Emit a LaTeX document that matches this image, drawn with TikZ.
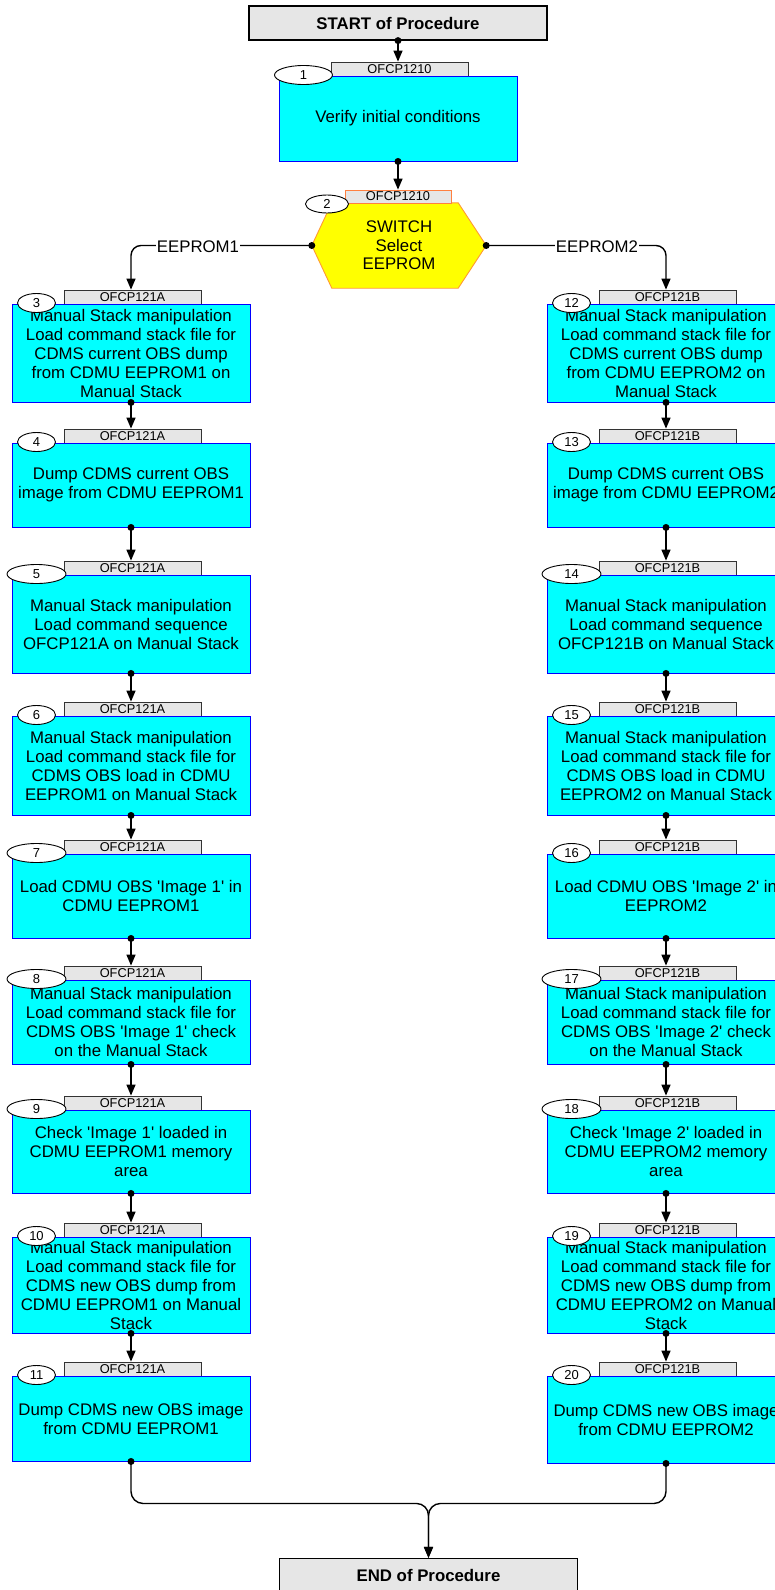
\documentclass[tikz,border=0pt]{standalone}
\usepackage{fontspec}
\setmainfont{Liberation Sans}
\usetikzlibrary{arrows.meta,backgrounds,calc,shapes.geometric}
\definecolor{cyanbox}{HTML}{00FFFF}
\definecolor{bluebd}{HTML}{0000FF}
\definecolor{taggray}{HTML}{E6E6E6}
\definecolor{hexyellow}{HTML}{FFFF00}
\definecolor{hexorange}{HTML}{FF9933}
\definecolor{tagorange}{HTML}{FF8040}
\newcommand{\myq}{\textquotesingle}
\tikzset{
 stepbox/.style={draw=bluebd, fill=cyanbox, line width=0.9pt, minimum width=238pt, align=center, inner sep=0pt, font=\fontsize{16.8}{19}\selectfont},
 tagbox/.style={draw=black!80, fill=taggray, line width=0.8pt, minimum width=137pt, minimum height=14pt, inner sep=0pt, font=\fontsize{12.8}{13}\selectfont},
 numell/.style={ellipse, draw=black, fill=white, line width=0.9pt, minimum height=19pt, inner sep=0pt, font=\fontsize{13}{13}\selectfont},
 endbox/.style={draw=black, fill=taggray, line width=1.2pt, minimum width=298pt, minimum height=34pt, inner sep=0pt, font=\bfseries\fontsize{16.8}{19}\selectfont},
 conn/.style={line width=1.4pt, -{Triangle[length=11pt,width=9pt]}},
 branchlabel/.style={fill=white, inner sep=1pt, font=\fontsize{16.8}{19}\selectfont},
}
% id, cx, top, bottom, tag, number, ellipse width, text
\newcommand{\pstep}[8]{%
 \node[tagbox] (t#1) at ({#2+1.5},{#3-7}) {#5};
 \node[stepbox, minimum height=#4-#3] (b#1) at (#2,{(#3+#4)/2}) {#8};
 \node[numell, minimum width=#7] (n#1) at ({#2-94.5},{#3-1}) {#6};
}
\newcommand{\link}[2]{%
 \draw[conn] (#1.south) -- (#1.south |- #2.north);
 \fill (#1.south) circle (3.5pt);
}
\begin{document}
\begin{tikzpicture}[x=1pt,y=-1pt]
\useasboundingbox (0,0) rectangle (775,1590);
\clip (0,0) rectangle (775,1590);

\node[endbox] (start) at (398,23) {START of Procedure};

\pstep{1}{398}{76}{161}{OFCP1210}{1}{58pt}{Verify initial conditions}

% switch
\node[tagbox, draw=tagorange, minimum width=106pt, minimum height=13pt] (t2) at (398,196.5) {OFCP1210};
\node[minimum width=174pt, minimum height=85pt, inner sep=0pt, align=center, font=\fontsize{16.8}{18.5}\selectfont] (b2) at (399,245.5) {SWITCH\\Select\\EEPROM};
\begin{scope}[on background layer]
\filldraw[fill=hexyellow, draw=hexorange, line width=0.9pt]
 (b2.west) -- ([xshift=20pt]b2.north west) -- ([xshift=-28pt]b2.north east) -- (b2.east)
 -- ([xshift=-28pt]b2.south east) -- ([xshift=20pt]b2.south west) -- cycle;
\end{scope}
\node[numell, minimum width=43pt, minimum height=18pt] (n2) at (327,204) {2};

% left column
\pstep{3}{131}{304}{402}{OFCP121A}{3}{38pt}{Manual Stack manipulation\\Load command stack file for\\CDMS current OBS dump\\from CDMU EEPROM1 on\\Manual Stack}
\pstep{4}{131}{443}{527}{OFCP121A}{4}{38pt}{Dump CDMS current OBS\\image from CDMU EEPROM1}
\pstep{5}{131}{575}{673}{OFCP121A}{5}{59pt}{Manual Stack manipulation\\Load command sequence\\OFCP121A on Manual Stack}
\pstep{6}{131}{716}{815}{OFCP121A}{6}{38pt}{Manual Stack manipulation\\Load command stack file for\\CDMS OBS load in CDMU\\EEPROM1 on Manual Stack}
\pstep{7}{131}{854}{938}{OFCP121A}{7}{59pt}{Load CDMU OBS \myq Image 1\myq{} in\\CDMU EEPROM1}
\pstep{8}{131}{980}{1064}{OFCP121A}{8}{59pt}{Manual Stack manipulation\\Load command stack file for\\CDMS OBS \myq Image 1\myq{} check\\on the Manual Stack}
\pstep{9}{131}{1110}{1193}{OFCP121A}{9}{59pt}{Check \myq Image 1\myq{} loaded in\\CDMU EEPROM1 memory\\area}
\pstep{10}{131}{1237}{1333}{OFCP121A}{10}{38pt}{Manual Stack manipulation\\Load command stack file for\\CDMS new OBS dump from\\CDMU EEPROM1 on Manual\\Stack}
\pstep{11}{131}{1376}{1461}{OFCP121A}{11}{38pt}{Dump CDMS new OBS image\\from CDMU EEPROM1}

% right column
\pstep{12}{666}{304}{402}{OFCP121B}{12}{38pt}{Manual Stack manipulation\\Load command stack file for\\CDMS current OBS dump\\from CDMU EEPROM2 on\\Manual Stack}
\pstep{13}{666}{443}{527}{OFCP121B}{13}{38pt}{Dump CDMS current OBS\\image from CDMU EEPROM2}
\pstep{14}{666}{575}{673}{OFCP121B}{14}{59pt}{Manual Stack manipulation\\Load command sequence\\OFCP121B on Manual Stack}
\pstep{15}{666}{716}{815}{OFCP121B}{15}{38pt}{Manual Stack manipulation\\Load command stack file for\\CDMS OBS load in CDMU\\EEPROM2 on Manual Stack}
\pstep{16}{666}{854}{938}{OFCP121B}{16}{38pt}{Load CDMU OBS \myq Image 2\myq{} in\\EEPROM2}
\pstep{17}{666}{980}{1064}{OFCP121B}{17}{59pt}{Manual Stack manipulation\\Load command stack file for\\CDMS OBS \myq Image 2\myq{} check\\on the Manual Stack}
\pstep{18}{666}{1110}{1193}{OFCP121B}{18}{59pt}{Check \myq Image 2\myq{} loaded in\\CDMU EEPROM2 memory\\area}
\pstep{19}{666}{1237}{1333}{OFCP121B}{19}{38pt}{Manual Stack manipulation\\Load command stack file for\\CDMS new OBS dump from\\CDMU EEPROM2 on Manual\\Stack}
\pstep{20}{666}{1376}{1463}{OFCP121B}{20}{38pt}{Dump CDMS new OBS image\\from CDMU EEPROM2}

\node[endbox] (end) at (428.5,1575.5) {END of Procedure};

% connectors
\link{start}{t1}
\link{b1}{t2}
\link{b3}{t4}\link{b4}{t5}\link{b5}{t6}\link{b6}{t7}\link{b7}{t8}\link{b8}{t9}\link{b9}{t10}\link{b10}{t11}
\link{b12}{t13}\link{b13}{t14}\link{b14}{t15}\link{b15}{t16}\link{b16}{t17}\link{b17}{t18}\link{b18}{t19}\link{b19}{t20}

% switch branches
\draw[conn, rounded corners=10pt] (b2.west) -- (b2.west -| b3.north) -- (b3.north |- t3.north);
\draw[conn, rounded corners=10pt] (b2.east) -- (b2.east -| b12.north) -- (b12.north |- t12.north);
\fill (b2.west) circle (3.5pt);
\fill (b2.east) circle (3.5pt);
\node[branchlabel] (l1) at (198,247) {EEPROM1};
\node[branchlabel] (l2) at (597,247) {EEPROM2};

% merge
\draw[conn, rounded corners=12pt] (b11.south) -- ++(0,42) -| (end.north);
\draw[conn, rounded corners=12pt] (b20.south) -- ++(0,40) -| (end.north);
\fill (b11.south) circle (3.5pt);
\fill (b20.south) circle (3.5pt);
\end{tikzpicture}
\end{document}
